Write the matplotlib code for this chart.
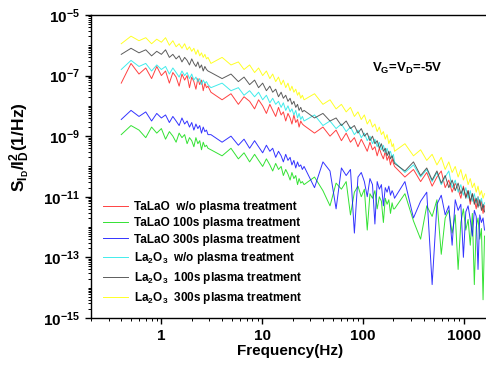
import numpy as np
import matplotlib
matplotlib.use("Agg")
import matplotlib.pyplot as plt
from matplotlib.ticker import LogLocator, NullFormatter

# 周波数（4つの測定レンジを連結）
freq_band1 = [0.40, 0.50, 0.60, 0.70, 0.80, 0.90, 1.00, 1.10, 1.20, 1.30,
              1.40, 1.50, 1.60, 1.70, 1.80, 1.90, 2.00, 2.10, 2.20, 2.30,
              2.40, 2.50, 2.60, 2.70, 2.80, 2.90]
freq_band2 = [3.1, 4.0, 4.9, 5.8, 6.6, 7.5, 8.4, 9.2, 10.1, 11.0,
              11.9, 12.7, 13.6, 14.5, 15.4, 16.2, 17.1, 18.0, 18.9, 19.7,
              20.6, 21.5, 22.4, 23.2, 24.1, 25.0]
freq_band3 = [26, 33, 40, 47, 54, 61, 68, 75, 82, 89,
              96, 103, 110, 117, 124, 131, 138, 145, 152, 159,
              166, 173, 180, 187, 194, 200]
freq_band4 = [205, 260, 316, 372, 428, 484, 540, 596, 652, 708,
              764, 820, 876, 932, 988, 1044, 1100, 1156, 1212, 1268,
              1324, 1380, 1436, 1492, 1548, 1600]

# log10(S_ID/ID^2) の読み取り値（2行で1レンジ）
talao_wo_log = [
    -7.25, -6.60, -6.95, -6.75, -7.10, -6.70, -7.00, -6.85, -7.25, -6.90, -7.05, -7.35, -6.95,
    -7.15, -7.00, -7.40, -7.05, -7.20, -7.45, -7.10, -7.30, -7.15, -7.50, -7.25, -7.40, -7.35,
    -7.55, -7.80, -7.60, -7.95, -7.70, -7.85, -8.10, -7.80, -8.00, -8.25, -7.95, -8.15, -8.35,
    -8.05, -8.30, -8.20, -8.50, -8.25, -8.40, -8.60, -8.30, -8.55, -8.45, -8.70, -8.50, -8.60,
    -8.65, -8.90, -8.70, -9.00, -8.80, -9.15, -8.90, -9.20, -9.05, -9.35, -9.10, -9.30, -9.50,
    -9.20, -9.45, -9.35, -9.65, -9.40, -9.60, -9.75, -9.50, -9.80, -9.65, -9.95, -9.75, -9.90,
    -10.00, -10.35, -10.10, -10.50, -10.20, -10.65, -10.35, -10.15, -10.70, -10.45, -10.85, -10.55, -10.75,
    -11.05, -10.65, -11.00, -10.80, -11.25, -10.90, -11.10, -11.40, -11.00, -11.30, -11.15, -11.55, -11.30,
]
talao_100s_log = [
    -8.95, -8.65, -8.80, -9.05, -8.70, -8.90, -8.75, -9.10, -8.85, -9.00, -9.20, -8.90, -9.05,
    -8.95, -9.25, -9.05, -9.15, -9.35, -9.05, -9.25, -9.15, -9.45, -9.20, -9.35, -9.30, -9.40,
    -9.45, -9.65, -9.40, -9.75, -9.55, -9.85, -9.60, -9.80, -10.00, -9.75, -9.95, -10.15, -9.90,
    -10.10, -10.00, -10.30, -10.10, -10.25, -10.45, -10.20, -10.40, -10.30, -10.60, -10.40, -10.55, -10.50,
    -10.60, -10.35, -10.80, -11.30, -10.55, -10.75, -10.50, -11.60, -10.85, -10.65, -11.00, -10.75, -12.10,
    -10.90, -11.05, -10.80, -11.40, -11.00, -11.15, -11.85, -11.05, -11.25, -11.10, -11.55, -11.20, -11.40,
    -11.40, -10.90, -11.80, -12.40, -11.30, -11.65, -11.10, -12.90, -11.70, -11.45, -12.20, -11.60, -13.40,
    -11.85, -11.40, -12.10, -11.75, -12.60, -11.55, -13.90, -12.00, -11.70, -12.40, -12.05, -14.40, -12.30,
]
talao_300s_log = [
    -8.45, -8.15, -8.35, -8.20, -8.50, -8.25, -8.40, -8.30, -8.55, -8.35, -8.50, -8.65, -8.40,
    -8.60, -8.50, -8.70, -8.55, -8.80, -8.60, -8.75, -8.65, -8.90, -8.70, -8.85, -8.80, -8.95,
    -8.95, -9.20, -9.00, -9.30, -9.10, -9.40, -9.15, -9.35, -9.55, -9.30, -9.50, -9.40, -9.70,
    -9.50, -9.65, -9.85, -9.60, -9.80, -9.70, -9.95, -9.80, -10.05, -9.85, -10.00, -9.95, -10.10,
    -10.00, -10.70, -9.85, -10.15, -11.40, -10.05, -10.30, -10.10, -12.20, -10.35, -10.20, -10.50, -11.00,
    -10.40, -10.60, -11.90, -10.50, -10.75, -10.60, -11.30, -10.70, -10.85, -10.65, -10.95, -10.80, -10.90,
    -11.05, -10.50, -11.70, -11.15, -10.85, -13.90, -11.25, -10.95, -11.60, -11.30, -12.60, -11.10, -11.45,
    -11.25, -13.00, -11.50, -11.30, -11.75, -12.30, -11.45, -11.65, -13.40, -11.60, -11.85, -11.70, -12.10,
]
la2o3_wo_log = [
    -6.80, -6.50, -6.70, -6.60, -6.85, -6.65, -6.80, -6.70, -6.95, -6.75, -6.90, -7.05, -6.85,
    -7.00, -6.90, -7.10, -6.95, -7.15, -7.05, -7.20, -7.10, -7.30, -7.15, -7.25, -7.20, -7.30,
    -7.40, -7.25, -7.50, -7.40, -7.65, -7.50, -7.70, -7.55, -7.80, -7.65, -7.90, -7.75, -7.95,
    -7.85, -8.05, -7.90, -8.15, -8.00, -8.20, -8.10, -8.30, -8.15, -8.40, -8.25, -8.45, -8.35,
    -8.50, -8.30, -8.65, -8.50, -8.75, -8.60, -8.85, -8.70, -8.95, -8.80, -9.05, -8.90, -9.15,
    -9.00, -9.25, -9.10, -9.35, -9.20, -9.45, -9.30, -9.55, -9.40, -9.60, -9.50, -9.70, -9.60,
    -9.85, -10.20, -9.95, -10.35, -10.10, -10.50, -10.20, -10.60, -10.35, -10.15, -10.70, -10.45, -10.85,
    -10.60, -10.95, -10.70, -11.05, -10.80, -11.15, -10.90, -11.20, -11.00, -11.30, -11.05, -11.35, -11.20,
]
la2o3_100s_log = [
    -6.30, -6.10, -6.25, -6.15, -6.35, -6.20, -6.30, -6.15, -6.40, -6.30, -6.45, -6.35, -6.55,
    -6.40, -6.50, -6.65, -6.45, -6.60, -6.70, -6.55, -6.75, -6.65, -6.85, -6.70, -6.80, -6.85,
    -6.90, -7.10, -6.95, -7.20, -7.05, -7.30, -7.15, -7.40, -7.25, -7.50, -7.35, -7.55, -7.45,
    -7.70, -7.55, -7.75, -7.65, -7.85, -7.75, -7.95, -7.85, -8.05, -7.95, -8.15, -8.05, -8.20,
    -8.15, -8.40, -8.25, -8.50, -8.40, -8.65, -8.50, -8.75, -8.65, -8.90, -8.75, -9.00, -8.90,
    -9.15, -9.00, -9.25, -9.15, -9.40, -9.25, -9.50, -9.40, -9.65, -9.50, -9.75, -9.65, -9.80,
    -9.90, -10.15, -9.85, -10.30, -10.05, -10.45, -10.15, -10.55, -10.30, -10.70, -10.45, -10.80, -10.55,
    -10.90, -10.70, -11.05, -10.80, -11.15, -10.90, -11.25, -11.05, -11.35, -11.10, -11.45, -11.25, -11.50,
]
la2o3_300s_log = [
    -5.95, -5.70, -5.85, -5.75, -5.95, -5.80, -5.90, -5.75, -6.00, -5.85, -6.05, -5.95, -6.10,
    -5.95, -6.15, -6.05, -6.20, -6.10, -6.30, -6.15, -6.35, -6.25, -6.40, -6.30, -6.45, -6.40,
    -6.60, -6.40, -6.65, -6.55, -6.80, -6.65, -6.90, -6.75, -7.00, -6.85, -7.10, -6.95, -7.20,
    -7.05, -7.30, -7.15, -7.40, -7.25, -7.50, -7.35, -7.55, -7.45, -7.65, -7.55, -7.75, -7.65,
    -7.80, -7.60, -7.95, -7.80, -8.10, -7.95, -8.20, -8.05, -8.35, -8.20, -8.45, -8.30, -8.60,
    -8.45, -8.70, -8.60, -8.85, -8.70, -8.95, -8.85, -9.10, -8.95, -9.25, -9.10, -9.35, -9.25,
    -9.50, -9.25, -9.65, -9.45, -9.80, -9.60, -9.95, -9.70, -10.10, -9.85, -10.20, -10.00, -10.35,
    -10.10, -10.45, -10.25, -10.60, -10.40, -10.70, -10.55, -10.85, -10.65, -10.95, -10.80, -11.05, -10.90,
]

labels = [
    "TaLaO  w/o plasma treatment",
    "TaLaO 100s plasma treatment",
    "TaLaO 300s plasma treatment",
    "La$_2$O$_3$  w/o plasma treatment",
    "La$_2$O$_3$  100s plasma treatment",
    "La$_2$O$_3$  300s plasma treatment",
]
colors = ["#ff2020", "#10dd10", "#1010ff", "#20e8e8", "#404040", "#ffff00"]

plt.rcParams["font.family"] = ["Liberation Sans", "DejaVu Sans"]
plt.rcParams["font.weight"] = "bold"
plt.rcParams["mathtext.fontset"] = "custom"
plt.rcParams["mathtext.rm"] = "Liberation Sans:bold"
plt.rcParams["mathtext.bf"] = "Liberation Sans:bold"
plt.rcParams["mathtext.default"] = "bf"

freq = np.array(freq_band1 + freq_band2 + freq_band3 + freq_band4)
series = [talao_wo_log, talao_100s_log, talao_300s_log,
          la2o3_wo_log, la2o3_100s_log, la2o3_300s_log]

fig = plt.figure(figsize=(4.86, 3.65), dpi=100)
ax = fig.add_axes([0.187, 0.129, 0.818, 0.830])

for values, color, label in zip(series, colors, labels):
    ax.plot(freq, 10.0 ** np.array(values), color=color, lw=0.7,
            alpha=0.85, label=label)

ax.set_xscale("log")
ax.set_yscale("log")
ax.set_xlim(0.2, 1750)
ax.set_ylim(1e-15, 1e-5)

# 目盛り：ラベルは2桁おき、間の桁と2〜9は小目盛り
ax.set_yticks([1e-15, 1e-13, 1e-11, 1e-9, 1e-7, 1e-5])
ax.set_yticklabels([r"10$^{-15}$", r"10$^{-13}$", r"10$^{-11}$",
                    r"10$^{-9}$", r"10$^{-7}$", r"10$^{-5}$"])
ax.yaxis.set_minor_locator(LogLocator(base=10, subs=np.arange(1, 10), numticks=30))
ax.yaxis.set_minor_formatter(NullFormatter())

ax.set_xticks([1, 10, 100, 1000])
ax.set_xticklabels(["1", "10", "100", "1000"])
ax.xaxis.set_minor_locator(LogLocator(base=10, subs=np.arange(2, 10), numticks=20))
ax.xaxis.set_minor_formatter(NullFormatter())

ax.tick_params(axis="both", which="major", direction="out", length=4.5,
               width=1.0, labelsize=11)
ax.tick_params(axis="both", which="minor", direction="out", length=2.2,
               width=0.7)
for side in ["left", "bottom", "top"]:
    ax.spines[side].set_linewidth(1.0)

ax.set_xlabel("Frequency(Hz)", fontsize=11, fontweight="bold", labelpad=1)
ax.set_ylabel(r"S$_{I_D}$/I$_D^2$(1/Hz)", fontsize=12.5, fontweight="bold")
ax.yaxis.set_label_coords(-0.148, 0.565)

ax.text(0.795, 0.825, r"V$_G$=V$_D$=-5V", transform=ax.transAxes,
        fontsize=9.5, ha="center", va="center")

ax.legend(loc="upper left", bbox_to_anchor=(0.005, 0.42), frameon=False,
          handlelength=2.1, handletextpad=0.5, labelspacing=0.35,
          prop={"weight": "bold", "size": 8.5})

fig.savefig("out.png", dpi=100)
plt.close(fig)
